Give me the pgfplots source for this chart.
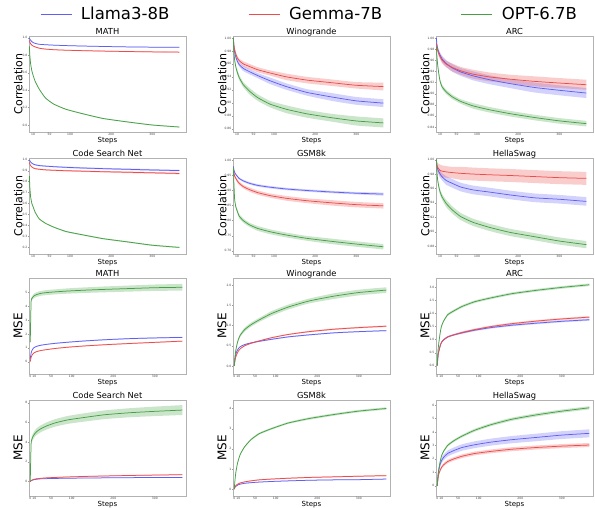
\documentclass[border=0pt]{standalone}
\usepackage{fontspec}
\setmainfont{DejaVu Sans}
\usepackage{pgfplots}
\usepackage{pgfplotstable}
\usepgfplotslibrary{fillbetween}
\pgfplotsset{compat=1.18}

\definecolor{cb}{RGB}{95,95,245}
\definecolor{cr}{RGB}{238,75,75}
\definecolor{cg}{RGB}{70,160,70}

% columns: step, mean and half band for blue / red / green
\pgfplotstableread{
x b bs r rs g gs
1 1.000 .002 0.970 .003 0.900 .004
2 0.985 .003 0.950 .004 0.800 .005
4 0.970 .003 0.930 .004 0.700 .005
7 0.955 .003 0.915 .004 0.620 .005
10 0.945 .003 0.905 .005 0.570 .005
15 0.935 .003 0.895 .005 0.500 .005
25 0.925 .003 0.880 .005 0.410 .005
40 0.920 .004 0.870 .005 0.310 .005
60 0.915 .004 0.863 .005 0.240 .005
90 0.910 .004 0.857 .005 0.180 .005
130 0.905 .004 0.852 .006 0.130 .006
180 0.900 .004 0.847 .006 0.075 .006
240 0.895 .004 0.842 .006 0.035 .006
300 0.892 .004 0.838 .006 0.000 .006
366 0.890 .004 0.835 .006 -0.023 .006
}\mathc
\pgfplotstableread{
x b bs r rs g gs
1 1.000 .001 1.000 .001 1.000 .001
2 0.988 .002 0.990 .002 0.980 .002
4 0.978 .002 0.982 .003 0.966 .003
7 0.970 .003 0.975 .003 0.955 .003
10 0.965 .003 0.970 .003 0.948 .004
15 0.959 .003 0.965 .003 0.939 .004
25 0.953 .004 0.960 .004 0.928 .004
40 0.948 .004 0.956 .004 0.918 .005
60 0.942 .004 0.951 .004 0.908 .005
90 0.934 .005 0.946 .004 0.898 .005
130 0.925 .005 0.940 .005 0.890 .006
180 0.916 .005 0.935 .005 0.883 .006
240 0.909 .006 0.931 .005 0.877 .006
300 0.903 .006 0.927 .005 0.872 .007
366 0.8995 .006 0.925 .006 0.869 .007
}\winoc
\pgfplotstableread{
x b bs r rs g gs
1 1.000 .001 0.990 .002 0.985 .002
2 0.990 .003 0.985 .003 0.970 .003
4 0.981 .004 0.978 .004 0.952 .003
7 0.974 .005 0.971 .005 0.935 .004
10 0.969 .005 0.966 .005 0.922 .004
15 0.962 .006 0.960 .006 0.912 .004
25 0.954 .006 0.953 .006 0.903 .004
40 0.946 .007 0.947 .007 0.894 .004
60 0.939 .007 0.941 .007 0.886 .004
90 0.932 .008 0.935 .008 0.878 .005
130 0.925 .008 0.930 .008 0.871 .005
180 0.918 .008 0.926 .008 0.864 .005
240 0.911 .009 0.922 .009 0.857 .005
300 0.906 .009 0.919 .009 0.851 .005
366 0.901 .009 0.916 .009 0.846 .005
}\arcc
\pgfplotstableread{
x b bs r rs g gs
1 1.000 .003 0.975 .003 0.850 .004
2 0.990 .004 0.960 .004 0.750 .005
4 0.978 .004 0.945 .004 0.660 .005
7 0.968 .005 0.933 .005 0.600 .005
10 0.960 .005 0.925 .005 0.570 .005
15 0.953 .005 0.918 .005 0.520 .005
25 0.946 .006 0.912 .006 0.460 .005
40 0.941 .006 0.907 .006 0.420 .005
60 0.936 .006 0.903 .006 0.385 .005
90 0.930 .007 0.899 .007 0.345 .006
130 0.924 .007 0.895 .007 0.315 .006
180 0.918 .007 0.890 .007 0.280 .006
240 0.912 .008 0.885 .008 0.250 .006
300 0.906 .008 0.880 .008 0.220 .006
366 0.900 .008 0.874 .008 0.200 .006
}\codec
\pgfplotstableread{
x b bs r rs g gs
1 0.980 .002 0.975 .003 0.975 .003
2 0.970 .003 0.960 .004 0.930 .005
4 0.960 .003 0.948 .005 0.870 .006
7 0.953 .003 0.940 .005 0.845 .006
10 0.948 .003 0.933 .006 0.833 .007
15 0.940 .003 0.924 .006 0.815 .007
25 0.932 .004 0.913 .006 0.800 .007
40 0.924 .004 0.903 .007 0.786 .007
60 0.917 .004 0.893 .007 0.774 .008
90 0.911 .004 0.883 .007 0.763 .008
130 0.905 .004 0.874 .008 0.752 .008
180 0.900 .004 0.866 .008 0.741 .008
240 0.895 .004 0.859 .009 0.731 .009
300 0.891 .004 0.853 .009 0.722 .009
366 0.888 .005 0.849 .009 0.713 .009
}\gsmc
\pgfplotstableread{
x b bs r rs g gs
1 1.000 .001 1.000 .001 1.000 .001
2 0.993 .003 0.993 .004 0.985 .002
4 0.987 .004 0.989 .006 0.972 .003
7 0.983 .005 0.987 .007 0.962 .004
10 0.980 .005 0.985 .008 0.955 .004
15 0.976 .005 0.984 .008 0.948 .004
25 0.971 .006 0.983 .008 0.939 .005
40 0.967 .006 0.982 .008 0.930 .005
60 0.962 .006 0.981 .009 0.921 .005
90 0.958 .006 0.980 .009 0.913 .005
130 0.955 .006 0.979 .009 0.906 .005
180 0.951 .006 0.978 .009 0.899 .005
240 0.947 .006 0.9765 .009 0.893 .005
300 0.945 .006 0.975 .009 0.887 .005
366 0.942 .006 0.974 .009 0.882 .005
}\hellac
\pgfplotstableread{
x b bs r rs g gs
0 0.20 .01 0.00 .01 1.40 .05
2 0.60 .02 0.30 .02 4.30 .12
4 0.80 .02 0.45 .02 4.55 .14
7 0.95 .03 0.58 .03 4.68 .15
10 1.03 .03 0.65 .03 4.76 .16
15 1.10 .03 0.72 .03 4.83 .17
25 1.18 .03 0.80 .03 4.92 .17
40 1.25 .03 0.87 .03 4.98 .18
60 1.32 .04 0.95 .03 5.03 .18
90 1.40 .04 1.04 .04 5.09 .19
130 1.49 .04 1.13 .04 5.15 .20
180 1.58 .04 1.22 .04 5.21 .21
240 1.66 .04 1.31 .04 5.27 .22
300 1.71 .04 1.39 .04 5.33 .23
366 1.75 .04 1.48 .04 5.36 .24
}\mathm
\pgfplotstableread{
x b bs r rs g gs
0 0.00 .005 0.00 .005 0.00 .005
2 0.20 .01 0.15 .01 0.25 .02
4 0.30 .01 0.23 .01 0.40 .03
7 0.38 .01 0.31 .01 0.55 .03
10 0.43 .01 0.37 .01 0.66 .04
15 0.48 .01 0.43 .01 0.77 .04
25 0.53 .01 0.50 .015 0.90 .05
40 0.57 .015 0.56 .015 1.02 .05
60 0.61 .015 0.62 .015 1.14 .05
90 0.66 .015 0.70 .015 1.30 .06
130 0.72 .015 0.78 .015 1.46 .06
180 0.77 .015 0.85 .02 1.61 .06
240 0.82 .015 0.91 .02 1.73 .07
300 0.85 .015 0.95 .02 1.82 .07
366 0.875 .015 0.985 .02 1.88 .07
}\winom
\pgfplotstableread{
x b bs r rs g gs
0 0.00 .005 0.00 .005 0.00 .005
2 0.42 .02 0.40 .02 0.60 .03
4 0.57 .02 0.55 .02 0.90 .03
7 0.76 .03 0.75 .03 1.25 .04
10 0.89 .03 0.88 .03 1.50 .04
15 0.99 .03 0.98 .03 1.70 .04
25 1.10 .03 1.10 .03 1.95 .05
40 1.18 .03 1.18 .03 2.10 .05
60 1.26 .04 1.27 .04 2.27 .05
90 1.36 .04 1.38 .04 2.45 .05
130 1.46 .04 1.50 .04 2.60 .05
180 1.55 .04 1.61 .04 2.76 .05
240 1.63 .04 1.71 .04 2.89 .05
300 1.70 .04 1.79 .04 3.00 .05
366 1.76 .04 1.86 .04 3.10 .05
}\arcm
\pgfplotstableread{
x b bs r rs g gs
0 0.00 .01 0.00 .01 0.00 .05
2 0.08 .02 0.10 .02 3.80 .25
4 0.13 .02 0.15 .03 4.30 .30
7 0.17 .02 0.20 .03 4.60 .30
10 0.20 .02 0.24 .04 4.80 .32
15 0.24 .02 0.28 .04 5.05 .34
25 0.28 .02 0.33 .04 5.35 .35
40 0.30 .02 0.38 .05 5.65 .36
60 0.32 .02 0.42 .05 5.95 .38
90 0.34 .02 0.47 .05 6.25 .40
130 0.36 .02 0.52 .05 6.50 .42
180 0.38 .02 0.57 .05 6.78 .44
240 0.40 .02 0.62 .05 6.98 .46
300 0.41 .02 0.66 .05 7.12 .48
366 0.42 .02 0.70 .05 7.25 .50
}\codem
\pgfplotstableread{
x b bs r rs g gs
0 0.00 .005 0.00 .005 0.00 .005
2 0.10 .01 0.12 .01 0.50 .02
4 0.14 .01 0.18 .015 0.85 .03
7 0.18 .015 0.23 .02 1.20 .03
10 0.22 .015 0.27 .02 1.45 .04
15 0.25 .015 0.31 .02 1.75 .04
25 0.29 .02 0.36 .025 2.10 .04
40 0.32 .02 0.41 .025 2.45 .05
60 0.35 .02 0.46 .03 2.75 .05
90 0.38 .02 0.50 .03 3.00 .05
130 0.41 .02 0.54 .03 3.28 .05
180 0.44 .02 0.58 .03 3.50 .06
240 0.46 .02 0.61 .03 3.70 .06
300 0.47 .02 0.64 .03 3.87 .06
366 0.50 .02 0.67 .03 4.00 .06
}\gsmm
\pgfplotstableread{
x b bs r rs g gs
0 0.00 .02 0.00 .02 0.00 .02
2 0.80 .12 0.60 .08 0.80 .06
4 1.20 .15 0.90 .10 1.30 .07
7 1.60 .18 1.15 .11 1.80 .08
10 1.85 .20 1.35 .12 2.20 .09
15 2.10 .21 1.55 .12 2.55 .09
25 2.40 .22 1.80 .13 3.00 .10
40 2.62 .23 2.00 .13 3.35 .10
60 2.85 .24 2.20 .14 3.70 .10
90 3.05 .25 2.40 .14 4.13 .11
130 3.25 .26 2.56 .14 4.55 .11
180 3.43 .27 2.72 .15 4.95 .12
240 3.60 .28 2.85 .15 5.28 .12
300 3.77 .29 2.95 .15 5.55 .12
366 3.90 .30 3.03 .15 5.80 .12
}\hellam

% one series: band + mean line
\newcommand{\band}[4]{%
  \addplot[draw=none, smooth, tension=0.3, name path=#2u, forget plot] table[x=x, y expr=\thisrow{#2}+\thisrow{#3}] {#1};
  \addplot[draw=none, smooth, tension=0.3, name path=#2l, forget plot] table[x=x, y expr=\thisrow{#2}-\thisrow{#3}] {#1};
  \addplot[fill=#4, fill opacity=0.28, draw=none, forget plot] fill between[of=#2u and #2l];
  \addplot[#4, line width=0.75pt, smooth, tension=0.3, forget plot] table[x=x, y=#2] {#1};
}
\newcommand{\three}[1]{\band{#1}{b}{bs}{cb}\band{#1}{r}{rs}{cr}\band{#1}{g}{gs}{cg}}
\newcommand{\expo}[1]{\node[anchor=south west, inner sep=0.5pt, font=\fontsize{3}{3}\selectfont, text=black!70] at (rel axis cs:0,1) {#1};}

\pgfplotsset{
  sub/.style={
    scale only axis, width=157pt, height=96pt,
    axis line style={black!30}, tick style={black!40},
    major tick length=1pt, tick align=outside, tick pos=left,
    ticklabel style={font=\fontsize{3}{3}\selectfont, text=black!75, inner sep=0.5pt},
    /pgf/number format/assume math mode=true,
    scaled ticks=false,
    title style={font=\fontsize{8.3}{9}\selectfont, at={(0.5,1)}, anchor=base, yshift=-4.6pt, inner sep=0pt},
    xlabel=Steps,
    xlabel style={font=\fontsize{7}{8}\selectfont, at={(axis description cs:0.5,-0.05)}, anchor=north, inner sep=0pt},
    ylabel style={font=\fontsize{11}{12}\selectfont, at={(axis description cs:-0.04,0.5)}, anchor=south, inner sep=0pt},
  },
  corr/.style={sub, xmin=0, xmax=382, xtick={10,50,100,200,300}, ylabel=Correlation},
  mse/.style={sub, xmin=-3, xmax=375, xtick={0,10,50,100,200,300}, ylabel=MSE,
    ylabel style={font=\fontsize{12}{13}\selectfont}},
  p1/.style={yticklabel style={/pgf/number format/fixed, /pgf/number format/fixed zerofill, /pgf/number format/precision=1}},
  p2/.style={yticklabel style={/pgf/number format/fixed, /pgf/number format/fixed zerofill, /pgf/number format/precision=2}},
}

\begin{document}
\begin{tikzpicture}

% row 1
\begin{axis}[corr, at={(29pt,376pt)}, title=MATH, ymin=-0.08, ymax=1.02, ytick={0,0.2,0.4,0.6,0.8,1.0}, p1,
  legend columns=3,
  legend style={at={(0.07,1.229)}, anchor=west, draw=none, fill=none, inner sep=0pt,
    font=\fontsize{16.5}{18}\selectfont, /tikz/every even column/.append style={column sep=77pt}},
  legend image code/.code={\draw[#1] (0pt,0pt) -- (31pt,0pt); \path (38pt,0pt);}]
\three{\mathc}
\addlegendimage{cb, line width=0.8pt}\addlegendentry{Llama3-8B}
\addlegendimage{cr, line width=0.8pt}\addlegendentry{Gemma-7B}
\addlegendimage{cg, line width=0.8pt}\addlegendentry{OPT-6.7B}
\end{axis}
\begin{axis}[corr, at={(233pt,376pt)}, title=Winogrande, ymin=0.855, ymax=1.003, ytick={0.86,0.88,0.90,0.92,0.94,0.96,0.98,1.0}, p2]
\three{\winoc}
\end{axis}
\begin{axis}[corr, at={(436pt,376pt)}, title=ARC, ymin=0.831, ymax=1.0036, ytick={0.84,0.86,0.88,0.90,0.92,0.94,0.96,0.98,1.0}, p2]
\three{\arcc}
\end{axis}

% row 2
\begin{axis}[corr, at={(29pt,254pt)}, title=Code Search Net, ymin=0.14, ymax=1.015, ytick={0.2,0.3,0.4,0.5,0.6,0.7,0.8,0.9,1.0}, p1]
\three{\codec}
\end{axis}
\begin{axis}[corr, at={(233pt,254pt)}, title=GSM8k, ymin=0.689, ymax=1.008, ytick={0.70,0.75,0.80,0.85,0.90,0.95,1.0}, p2]
\three{\gsmc}
\end{axis}
\begin{axis}[corr, at={(436pt,254pt)}, title=HellaSwag, ymin=0.869, ymax=1.0023, ytick={0.88,0.90,0.92,0.94,0.96,0.98,1.0}, p2]
\three{\hellac}
\end{axis}

% row 3
\begin{axis}[mse, at={(29pt,134pt)}, title=MATH, ymin=-0.89, ymax=6.03, ytick={0,1,2,3,4,5}]
\three{\mathm}
\expo{1e−3}
\end{axis}
\begin{axis}[mse, at={(233pt,134pt)}, title=Winogrande, ymin=-0.2, ymax=2.18, ytick={0,0.5,1.0,1.5,2.0}, p1]
\three{\winom}
\expo{1e−1}
\end{axis}
\begin{axis}[mse, at={(436pt,134pt)}, title=ARC, ymin=-0.32, ymax=3.36, ytick={0,0.5,1.0,1.5,2.0,2.5,3.0}, p1]
\three{\arcm}
\expo{1e−2}
\end{axis}

% row 4
\begin{axis}[mse, at={(29pt,12pt)}, title=Code Search Net, ymin=-1.46, ymax=8.27, ytick={0,2,4,6,8}]
\three{\codem}
\expo{1e−5}
\end{axis}
\begin{axis}[mse, at={(233pt,12pt)}, title=GSM8k, ymin=-0.34, ymax=4.42, ytick={0,1,2,3,4}]
\three{\gsmm}
\expo{1e−1}
\end{axis}
\begin{axis}[mse, at={(436pt,12pt)}, title=HellaSwag, ymin=-0.76, ymax=6.38, ytick={0,1,2,3,4,5,6}]
\three{\hellam}
\expo{1e−2}
\end{axis}

\path (0pt,0pt) rectangle (595pt,508pt);
\end{tikzpicture}
\end{document}
